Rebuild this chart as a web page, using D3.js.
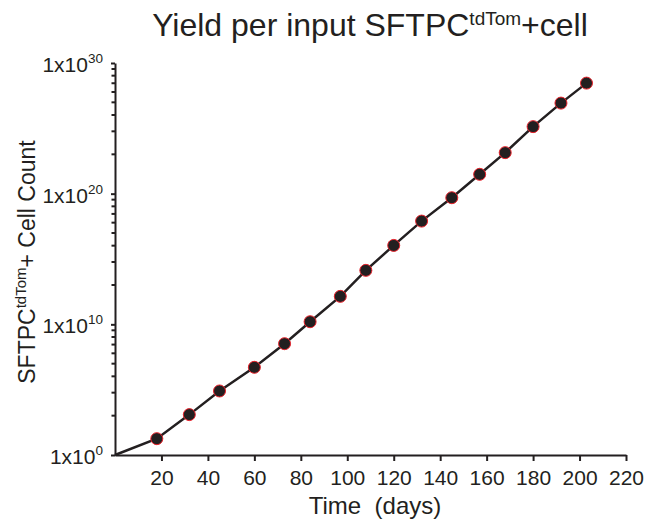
<!DOCTYPE html>
<html lang=en>
<head>
<meta charset="utf-8">
<style>
  body { margin: 0; background: #fff; }
  svg { font-family: "Liberation Sans", Arial, sans-serif; }
  .axis path, .axis line { stroke: #231f20; stroke-width: 2; }
  .axis text { fill: #231f20; }
</style>
<title>Yield per input cell</title>
</head>
<body>
<div id="chart"></div>
<script src="https://d3js.org/d3.v7.min.js"></script>
<script>
// days after start, origin included so the line starts at 1 cell
var days = [0, 18, 32, 45, 60, 73, 84, 97, 108, 120, 132, 145, 157, 168, 180, 192, 203];
// log10 of cell count
var logCounts = [0, 1.25, 3.09, 4.90, 6.71, 8.52, 10.2, 12.14, 14.13, 16.04, 17.9, 19.69, 21.48, 23.14, 25.13, 26.93, 28.46];
var xTicks = [20, 40, 60, 80, 100, 120, 140, 160, 180, 200, 220];
var yExponents = [0, 10, 20, 30];

(function() {
  var width = 662,
      height = 522;
  var margin = {top: 63, right: 36, bottom: 67, left: 115};

  var svg = d3.select("#chart").append("svg")
      .attr("width", width)
      .attr("height", height);

  var x = d3.scaleLinear()
      .domain([0, 220])
      .range([margin.left, width - margin.right]);
  var y = d3.scaleLog()
      .domain([1, 1e30])
      .range([height - margin.bottom, margin.top]);

  var data = days.map(function(d, i) { return {day: d, count: Math.pow(10, logCounts[i])}; });

  // minor ticks: k^10 steps inside each 1e10 block
  var minor = [];
  yExponents.slice(0, -1).forEach(function(e) {
    for (var k = 2; k <= 9; k++) minor.push(Math.pow(k, 10) * Math.pow(10, e));
  });

  // y axis
  var yAxis = svg.append("g")
      .attr("class", "axis")
      .attr("transform", "translate(" + margin.left + ",0)")
      .call(d3.axisLeft(y)
        .tickValues(yExponents.map(function(e) { return Math.pow(10, e); }))
        .tickSize(4)
        .tickPadding(8)
        .tickSizeOuter(0)
        .tickFormat(""))
      .attr("font-size", 21)
      .attr("font-family", null);
  yAxis.selectAll(".tick text").each(function(d) {
    var t = d3.select(this).attr("dy", "0.4em");
    t.append("tspan").text("1x10");
    t.append("tspan").attr("font-size", "13.5px").attr("dy", "-0.65em").text(Math.round(Math.log10(d)));
  });
  yAxis.selectAll(".minor")
      .data(minor)
    .enter().append("line")
      .attr("class", "minor")
      .attr("x1", -3.5).attr("x2", 0)
      .attr("y1", function(d) { return y(d); })
      .attr("y2", function(d) { return y(d); });

  // x axis
  svg.append("g")
      .attr("class", "axis")
      .attr("transform", "translate(0," + (height - margin.bottom) + ")")
      .call(d3.axisBottom(x)
        .tickValues(xTicks)
        .tickSize(6)
        .tickPadding(9)
        .tickSizeOuter(0))
      .attr("font-size", 21)
      .attr("font-family", null);

  // line + markers
  var line = d3.line()
      .x(function(d) { return x(d.day); })
      .y(function(d) { return y(d.count); });
  svg.append("path")
      .datum(data)
      .attr("fill", "none")
      .attr("stroke", "#231f20")
      .attr("stroke-width", 2.5)
      .attr("d", line);
  svg.selectAll(".dot")
      .data(data.filter(function(d) { return d.day > 0; }))
    .enter().append("circle")
      .attr("class", "dot")
      .attr("cx", function(d) { return x(d.day); })
      .attr("cy", function(d) { return y(d.count); })
      .attr("r", 6)
      .attr("fill", "#231f20")
      .attr("stroke", "#e8212a")
      .attr("stroke-width", 1);

  // title
  var title = svg.append("text")
      .attr("x", 370)
      .attr("y", 36)
      .attr("text-anchor", "middle")
      .attr("fill", "#231f20")
      .attr("font-size", "32px");
  title.append("tspan").text("Yield per input SFTPC");
  title.append("tspan").attr("font-size", "19px").attr("dy", "-0.6em").text("tdTom");
  title.append("tspan").attr("dy", "0.36em").text("+cell");

  // axis titles
  svg.append("text")
      .attr("x", 375)
      .attr("y", 514)
      .attr("text-anchor", "middle")
      .attr("fill", "#231f20")
      .attr("font-size", "24px")
      .attr("xml:space", "preserve")
      .text("Time  (days)");

  var yt = svg.append("text")
      .attr("transform", "translate(35,262) rotate(-90)")
      .attr("text-anchor", "middle")
      .attr("fill", "#231f20")
      .attr("font-size", "23px");
  yt.append("tspan").text("SFTPC");
  yt.append("tspan").attr("font-size", "15px").attr("dy", "-0.6em").text("tdTom");
  yt.append("tspan").attr("dy", "0.4em").text("+ Cell Count");
})();
</script>
</body>
</html>
